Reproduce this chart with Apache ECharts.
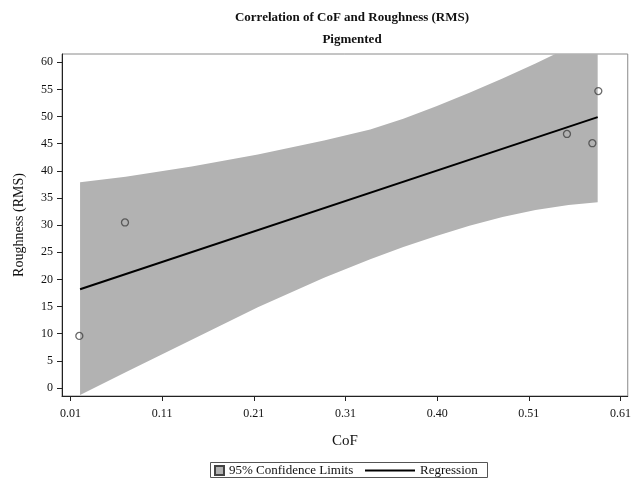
<!DOCTYPE html>
<html>
<head>
<meta charset="utf-8">
<script src="https://cdn.jsdelivr.net/npm/echarts@6/dist/echarts.min.js"></script>
<style>
html,body{margin:0;padding:0;background:#fff;}
#chart{width:634px;height:480px;}
</style>
</head>
<body>
<div id="chart"></div>
<script>
// Observed data points (CoF, Roughness RMS)
const pointX = [0.0197, 0.0695, 0.5516, 0.5793, 0.5858];
const pointY = [9.6, 30.5, 46.8, 45.1, 54.7];

// Regression line endpoints
const regX = [0.0205, 0.5851];
const regY = [18.2, 49.9];

// 95% confidence band
const bandX = [0.0205, 0.0702, 0.1423, 0.2144, 0.2866, 0.3370, 0.3731, 0.4091, 0.4452, 0.4813, 0.5173, 0.5533, 0.5851];
const bandUpper = [37.9, 38.9, 40.8, 43.0, 45.6, 47.6, 49.6, 51.9, 54.4, 57.0, 59.8, 62.7, 65.6];
const bandLower = [-1.3, 2.9, 8.9, 14.9, 20.3, 23.7, 26.0, 28.0, 29.9, 31.5, 32.8, 33.7, 34.2];

// Tick values and labels
const xTicks = [0.01, 0.11, 0.21, 0.31, 0.41, 0.51, 0.61];
const xTickLabels = ['0.01', '0.11', '0.21', '0.31', '0.40', '0.51', '0.61'];
const yTicks = [0, 5, 10, 15, 20, 25, 30, 35, 40, 45, 50, 55, 60];

const serif = '"Liberation Serif", "Times New Roman", serif';

const pts = pointX.map((x, i) => [x, pointY[i]]);
const reg = regX.map((x, i) => [x, regY[i]]);
const bandData = bandX.map((x, i) => [x, bandLower[i], bandUpper[i]]);

const chart = echarts.init(document.getElementById('chart'), null, {renderer: 'canvas'});
chart.setOption({
  animation: false,
  backgroundColor: '#fff',
  title: {
    text: 'Correlation of CoF and Roughness (RMS)\nPigmented',
    left: 347, top: 2, textAlign: 'center',
    textStyle: {fontFamily: serif, fontSize: 13, fontWeight: 'bold', color: '#111', lineHeight: 22}
  },
  grid: {left: 62, right: 1, top: 54, bottom: 84, show: true, borderColor: '#8a8a8a', borderWidth: 1, containLabel: false},
  legend: [
    {
      left: 214, top: 464, itemWidth: 9, itemHeight: 9, padding: 0,
      data: [{name: '95% Confidence Limits', icon: 'rect'}],
      textStyle: {fontFamily: serif, fontSize: 13, color: '#111'},
      selectedMode: false
    },
    {
      left: 364, top: 464, itemWidth: 50, itemHeight: 12, padding: 0,
      data: [{name: 'Regression', itemStyle: {opacity: 0}, lineStyle: {color: '#000', width: 2}}],
      textStyle: {fontFamily: serif, fontSize: 13, color: '#111'},
      selectedMode: false
    }
  ],
  graphic: [{
    type: 'rect', silent: true,
    shape: {x: 210.5, y: 462.5, width: 277, height: 15},
    style: {fill: 'none', stroke: '#555', lineWidth: 1}
  }],
  xAxis: {
    type: 'value', min: 0.0008, max: 0.6179,
    name: 'CoF', nameLocation: 'middle', nameGap: 38,
    nameTextStyle: {fontFamily: serif, fontSize: 15, color: '#111'},
    axisLine: {show: true, onZero: false, lineStyle: {color: '#222', width: 1}},
    axisTick: {show: true, customValues: xTicks, length: 5, lineStyle: {color: '#222'}},
    axisLabel: {
      customValues: xTicks, margin: 12,
      fontFamily: serif, fontSize: 12, color: '#111',
      formatter: function (v) {
        for (let i = 0; i < xTicks.length; i++) { if (Math.abs(v - xTicks[i]) < 1e-6) return xTickLabels[i]; }
        return '';
      }
    },
    splitLine: {show: false}
  },
  yAxis: {
    type: 'value', min: -1.47, max: 61.53,
    name: 'Roughness (RMS)', nameLocation: 'middle', nameGap: 36, nameRotate: 90,
    nameTextStyle: {fontFamily: serif, fontSize: 14, color: '#111'},
    axisLine: {show: true, onZero: false, lineStyle: {color: '#222', width: 1}},
    axisTick: {show: true, customValues: yTicks, length: 5, lineStyle: {color: '#222'}},
    axisLabel: {customValues: yTicks, margin: 9, fontFamily: serif, fontSize: 12, color: '#111'},
    splitLine: {show: false}
  },
  series: [
    {
      name: '95% Confidence Limits', type: 'custom', data: bandData, clip: true, silent: true,
      encode: {x: 0, y: [1, 2]},
      itemStyle: {color: '#b2b2b2', borderColor: '#444', borderWidth: 1},
      renderItem: function (params, api) {
        if (params.dataIndex !== 0) return null;
        const upper = bandData.map(d => api.coord([d[0], d[2]]));
        const lower = bandData.map(d => api.coord([d[0], d[1]])).reverse();
        return {
          type: 'polygon',
          shape: {points: upper.concat(lower)},
          style: {fill: '#b2b2b2', stroke: null}
        };
      },
      z: 1
    },
    {
      name: 'Regression', type: 'line', data: reg, symbol: 'none',
      lineStyle: {color: '#000', width: 2},
      itemStyle: {color: '#000'}, z: 3
    },
    {
      name: 'Observed', type: 'scatter', data: pts, symbol: 'circle', symbolSize: 7,
      itemStyle: {color: 'rgba(0,0,0,0)', borderColor: '#444', borderWidth: 1.3},
      z: 5
    }
  ]
});
</script>
</body>
</html>
